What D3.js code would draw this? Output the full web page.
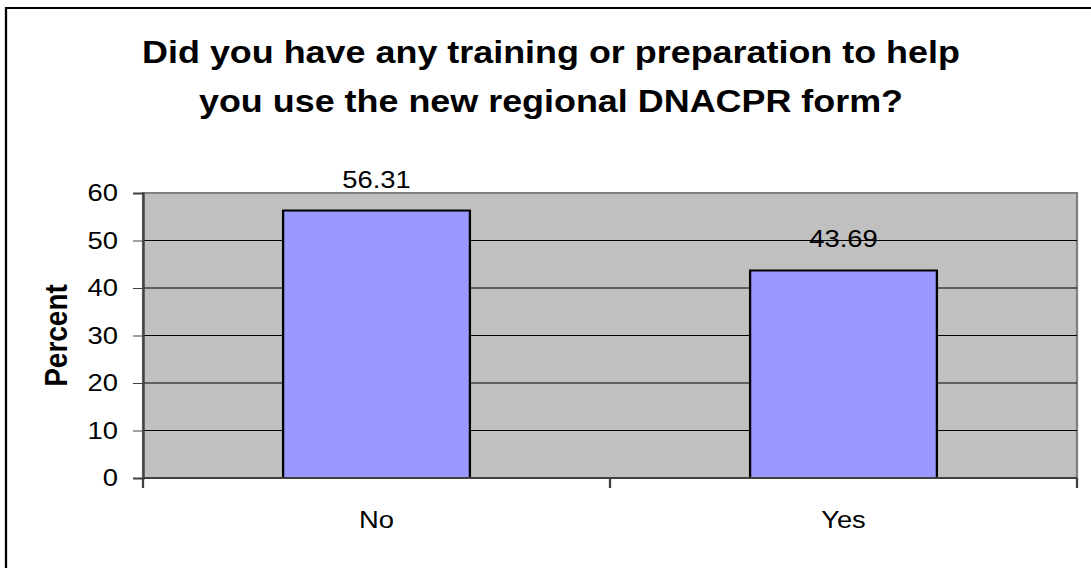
<!DOCTYPE html>
<html>
<head>
<meta charset="utf-8">
<script src="https://cdn.jsdelivr.net/npm/d3@7"></script>
<style>
  body { margin: 0; background: #fff; overflow: hidden; }
  svg { display: block; font-family: "Liberation Sans", Arial, sans-serif; }
</style>
</head>
<body>
<svg id="chart" width="1091" height="568"></svg>
<script>
// chart data
var categories = ["No", "Yes"];
var percents = [56.31, 43.69];
var yTicks = [0, 10, 20, 30, 40, 50, 60];
var titleLines = ["Did you have any training or preparation to help",
                  "you use the new regional DNACPR form?"];

// the original picture is stretched sideways, so draw in a squeezed space
var sx = 1.14;

var svg = d3.select("#chart"),
    width = +svg.attr("width"),
    height = +svg.attr("height"),
    plot = {left: 143, right: 1077, top: 193, bottom: 478};

var g = svg.append("g")
    .attr("transform", "scale(" + sx + ",1)");

// outer chart border (runs off the right / bottom edge)
g.append("rect")
    .attr("x", 6 / sx)
    .attr("y", 8)
    .attr("width", (width + 40) / sx)
    .attr("height", height + 40)
    .attr("fill", "#fff")
    .attr("stroke", "#000")
    .attr("stroke-width", 2);

var x = d3.scaleBand()
    .domain(categories)
    .range([plot.left / sx, plot.right / sx])
    .paddingInner(0.6)
    .paddingOuter(0.3);

var y = d3.scaleLinear()
    .domain([0, 60])
    .range([plot.bottom, plot.top]);

// plot area
g.append("rect")
    .attr("x", x.range()[0])
    .attr("y", y(60))
    .attr("width", x.range()[1] - x.range()[0])
    .attr("height", y(0) - y(60))
    .attr("fill", "#C0C0C0")
    .attr("stroke", "#808080")
    .attr("stroke-width", 2);

// gridlines
g.selectAll("line.grid")
    .data(yTicks.filter(function(d) { return d > 0 && d < 60; }))
  .enter().append("line")
    .attr("class", "grid")
    .attr("x1", x.range()[0])
    .attr("x2", x.range()[1])
    .attr("y1", function(d) { return y(d); })
    .attr("y2", function(d) { return y(d); })
    .attr("stroke", "#000")
    .attr("stroke-width", 1);

// bars
g.selectAll("rect.bar")
    .data(percents)
  .enter().append("rect")
    .attr("class", "bar")
    .attr("x", function(d, i) { return x(categories[i]); })
    .attr("y", function(d) { return y(d); })
    .attr("width", x.bandwidth())
    .attr("height", function(d) { return y(0) - y(d); })
    .attr("fill", "#9999FF")
    .attr("stroke", "#000")
    .attr("stroke-width", 2);

// value labels
g.selectAll("text.val")
    .data(percents)
  .enter().append("text")
    .attr("class", "val")
    .attr("x", function(d, i) { return x(categories[i]) + x.bandwidth() / 2; })
    .attr("y", function(d) { return y(d) - 23; })
    .attr("text-anchor", "middle")
    .style("font-size", "24px")
    .text(function(d) { return d.toFixed(2); });

// y axis
var yAxis = g.append("g")
    .attr("transform", "translate(" + x.range()[0] + ",0)")
    .call(d3.axisLeft(y).tickValues(yTicks).tickSize(10 / sx).tickPadding(15 / sx));
yAxis.select(".domain").attr("stroke", "#404040").attr("stroke-width", 2);
yAxis.selectAll(".tick line").attr("stroke", "#404040");
yAxis.selectAll(".tick text")
    .style("font-size", "24px")
    .style("font-family", "'Liberation Sans', Arial, sans-serif")
    .attr("fill", "#000");

// x axis: ticks on category boundaries
var xAxis = g.append("g")
    .attr("transform", "translate(0," + y(0) + ")");
xAxis.append("line")
    .attr("x1", x.range()[0])
    .attr("x2", x.range()[1])
    .attr("stroke", "#404040")
    .attr("stroke-width", 2);
var bounds = [x.range()[0]].concat(categories.map(function(c) { return x(c) + x.bandwidth() + x.step() * 0.3; }));
xAxis.selectAll("line.tk")
    .data(bounds)
  .enter().append("line")
    .attr("class", "tk")
    .attr("x1", function(d) { return d; })
    .attr("x2", function(d) { return d; })
    .attr("y1", 0)
    .attr("y2", 10)
    .attr("stroke", "#404040")
    .attr("stroke-width", 2);
xAxis.selectAll("text.cat")
    .data(categories)
  .enter().append("text")
    .attr("class", "cat")
    .attr("x", function(d) { return x(d) + x.bandwidth() / 2; })
    .attr("y", 50)
    .attr("text-anchor", "middle")
    .style("font-size", "24px")
    .text(function(d) { return d; });

// y axis title
g.append("text")
    .attr("transform", "translate(" + (67 / sx) + "," + ((plot.top + plot.bottom) / 2) + ") rotate(-90)")
    .attr("text-anchor", "middle")
    .style("font-size", "28px")
    .style("font-weight", "bold")
    .text("Percent");

// chart title
g.append("text")
    .attr("text-anchor", "middle")
    .style("font-size", "31.5px")
    .style("font-weight", "bold")
  .selectAll("tspan")
    .data(titleLines)
  .enter().append("tspan")
    .attr("x", 551 / sx)
    .attr("y", function(d, i) { return 63 + i * 49; })
    .text(function(d) { return d; });
</script>
</body>
</html>
